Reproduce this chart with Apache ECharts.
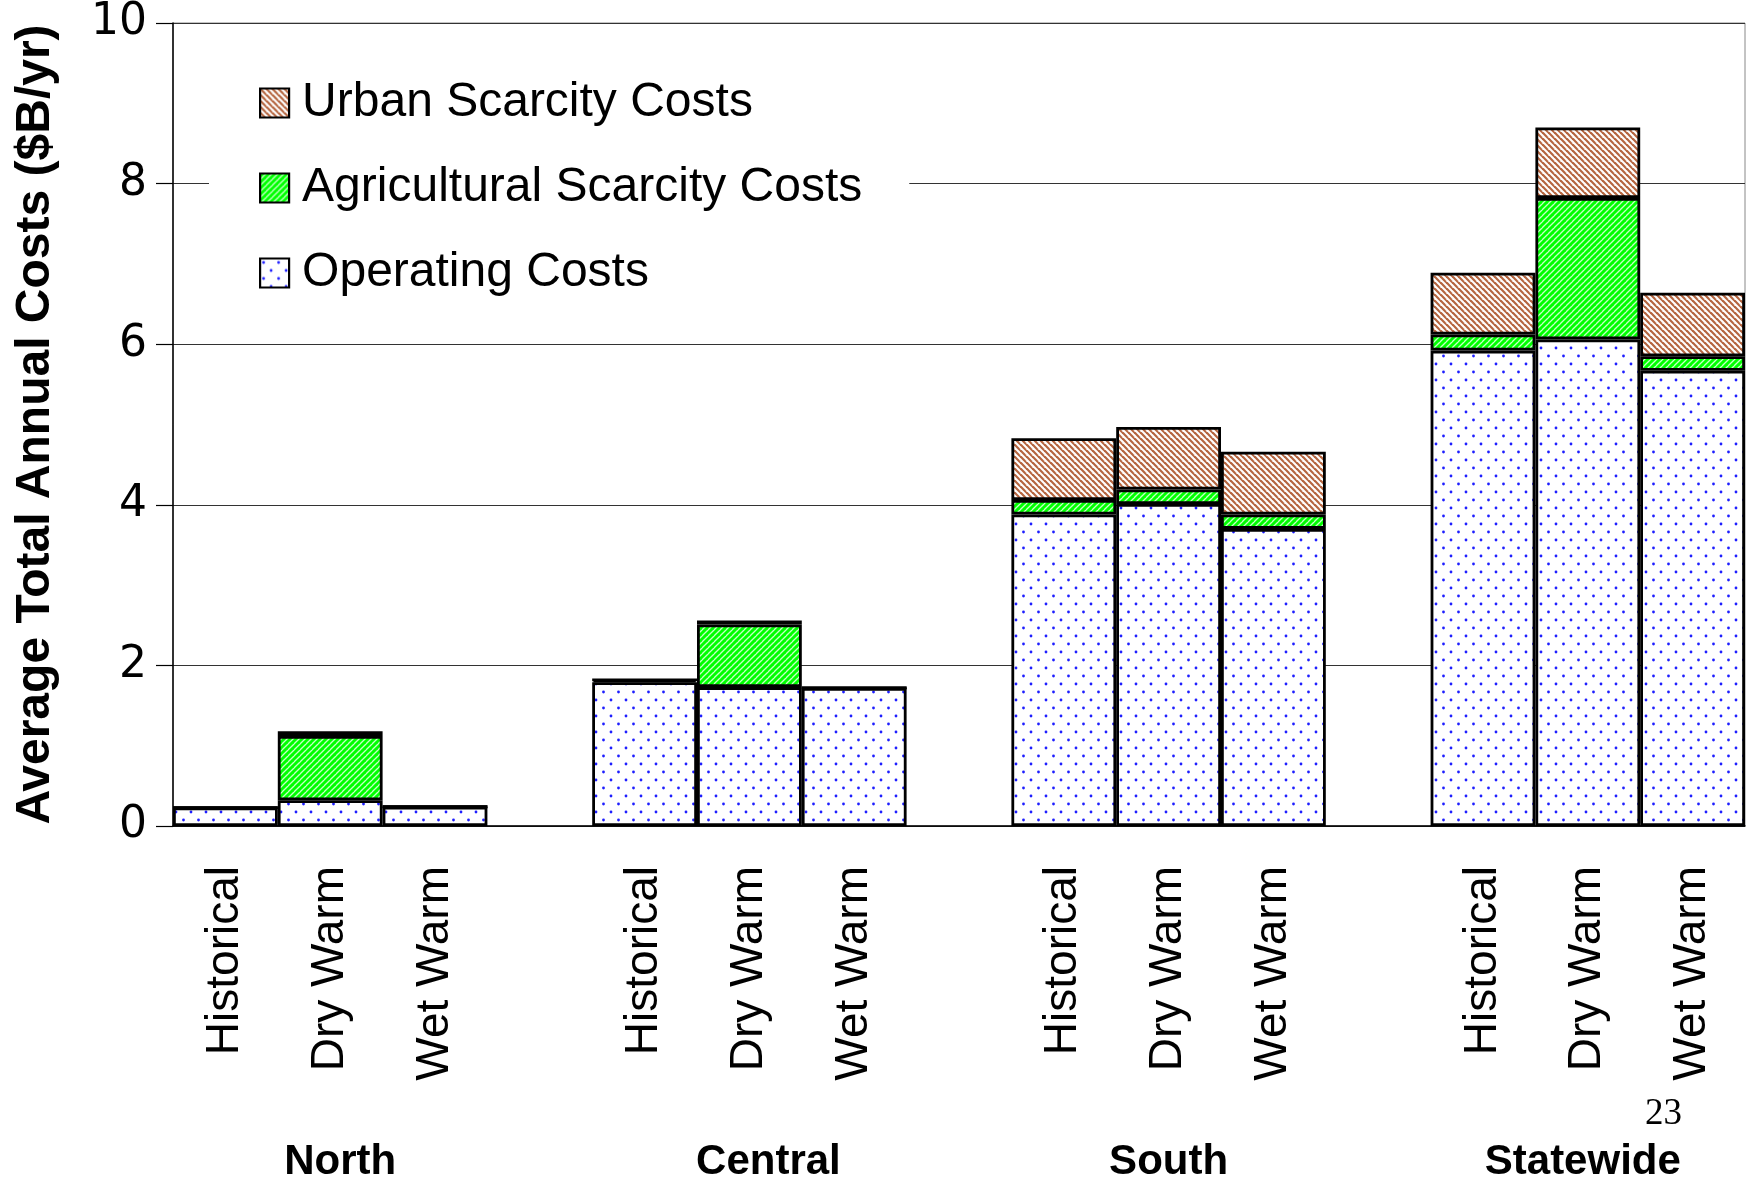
<!DOCTYPE html>
<html>
<head>
<meta charset="utf-8">
<script src="https://cdn.jsdelivr.net/npm/echarts@6/dist/echarts.min.js"></script>
<style>
  html, body { margin: 0; padding: 0; background: #fff; }
  #chart { width: 1751px; height: 1183px; }
</style>
</head>
<body>
<div id="chart"></div>
<script>
const regions = ['North', 'Central', 'South', 'Statewide']
const scenarios = ['Historical', 'Dry Warm', 'Wet Warm']
// $B/yr, per region in order Historical, Dry Warm, Wet Warm
const operating = [0.23, 0.32, 0.24, 1.79, 1.73, 1.72, 3.88, 4.01, 3.70, 5.92, 6.06, 5.67]
const agricultural = [0, 0.80, 0, 0.03, 0.78, 0, 0.18, 0.18, 0.18, 0.20, 1.76, 0.18]
const urban = [0, 0.06, 0, 0, 0.05, 0, 0.77, 0.78, 0.78, 0.77, 0.88, 0.79]
const yTicks = { min: 0, max: 10, interval: 2 }

const FONT = '"Liberation Sans", Arial, sans-serif'

// put an empty slot between regions
function spread (vals, gap) {
  let out = []
  regions.forEach((r, i) => {
    if (i) out.push(gap)
    for (let j = 0; j < scenarios.length; j++) out.push(vals[i * scenarios.length + j])
  })
  return out
}

const categories = spread(regions.flatMap(() => scenarios), '')

// region names under the middle bar, nudged a little like the original slide
const groupNudge = { North: [0, 0, 0, 20], Central: [0, 0, 0, 38], South: [0, 0, 0, 0], Statewide: [0, 10, 0, 0] }
const groupLabels = spread(regions.flatMap(r => ['', { value: r, textStyle: { padding: groupNudge[r] } }, '']), '')

// fill patterns
function stripes (bg, fg, size, width, dir) {
  let c = document.createElement('canvas')
  c.width = c.height = size
  let g = c.getContext('2d')
  g.fillStyle = bg
  g.fillRect(0, 0, size, size)
  g.strokeStyle = fg
  g.lineWidth = width
  for (let k = -size; k <= 2 * size; k += size) {
    g.beginPath()
    if (dir === '\\') {
      g.moveTo(k - size, -size)
      g.lineTo(k + size, size)
    } else {
      g.moveTo(k + size, -size)
      g.lineTo(k - size, size)
    }
    g.stroke()
  }
  return { image: c, repeat: 'repeat' }
}

function dots () {
  let c = document.createElement('canvas')
  c.width = 15
  c.height = 16
  let g = c.getContext('2d')
  g.fillStyle = '#fff'
  g.fillRect(0, 0, 15, 16)
  g.fillStyle = '#1e1eff'
  ;[[3.5, 4], [11, 12]].forEach(p => {
    g.beginPath()
    g.arc(p[0], p[1], 1.4, 0, Math.PI * 2)
    g.fill()
  })
  return { image: c, repeat: 'repeat' }
}

const border = { borderColor: '#000', borderWidth: 2.8 }

function bar (name, vals, fill) {
  return {
    name: name,
    type: 'bar',
    stack: 'total',
    barCategoryGap: '0%',
    itemStyle: Object.assign({ color: fill }, border),
    emphasis: { disabled: true },
    data: spread(vals, null)
  }
}

const chart = echarts.init(document.getElementById('chart'))
chart.setOption({
  animation: false,
  backgroundColor: '#fff',
  grid: {
    left: 173,
    right: 6,
    top: 23,
    height: 806,
    show: true,
    borderColor: '#888',
    borderWidth: 1
  },
  legend: {
    orient: 'vertical',
    left: 209,
    top: 59,
    padding: [20, 47, 20, 50],
    backgroundColor: '#fff',
    icon: 'rect',
    itemWidth: 29,
    itemHeight: 29,
    itemGap: 37,
    itemStyle: { borderColor: '#000', borderWidth: 2.2 },
    textStyle: { fontSize: 48, fontFamily: FONT, color: '#000', padding: [0, 0, 0, 8] },
    data: ['Urban Scarcity Costs', 'Agricultural Scarcity Costs', 'Operating Costs']
  },
  xAxis: [
    {
      type: 'category',
      data: categories,
      axisLine: { lineStyle: { color: '#000', width: 1.5 } },
      axisTick: { length: 15, lineStyle: { color: '#333', width: 1.2 } },
      axisLabel: { interval: 0, rotate: 90, margin: 40, fontSize: 46, fontFamily: FONT, color: '#000' }
    },
    {
      type: 'category',
      position: 'bottom',
      offset: 307,
      data: groupLabels,
      axisLine: { show: false },
      axisTick: { show: false },
      axisLabel: { interval: 0, margin: 8, fontSize: 42, fontWeight: 'bold', fontFamily: FONT, color: '#000' }
    }
  ],
  yAxis: {
    type: 'value',
    min: yTicks.min,
    max: yTicks.max,
    interval: yTicks.interval,
    name: 'Average Total Annual Costs ($B/yr)',
    nameLocation: 'middle',
    nameRotate: 90,
    nameGap: 113,
    nameTextStyle: { fontSize: 48, fontWeight: 'bold', fontFamily: FONT, color: '#000' },
    axisLine: { show: true, lineStyle: { color: '#000', width: 1.5 } },
    axisTick: { show: true, length: 17, lineStyle: { color: '#000', width: 1.2 } },
    axisLabel: { margin: 26, fontSize: 44, fontFamily: '"DejaVu Sans", sans-serif', color: '#000' },
    splitLine: { lineStyle: { color: '#333', width: 1 } }
  },
  graphic: [
    {
      type: 'text',
      left: 1645,
      top: 1096,
      style: { text: '23', font: '37px "Liberation Serif", serif', fill: '#000' }
    }
  ],
  series: [
    bar('Operating Costs', operating, dots()),
    bar('Agricultural Scarcity Costs', agricultural, stripes('#00ff00', '#c8ffc8', 6, 1.3, '/')),
    bar('Urban Scarcity Costs', urban, stripes('#ffffff', '#b5653f', 6, 2.2, '\\'))
  ]
})
</script>
</body>
</html>
